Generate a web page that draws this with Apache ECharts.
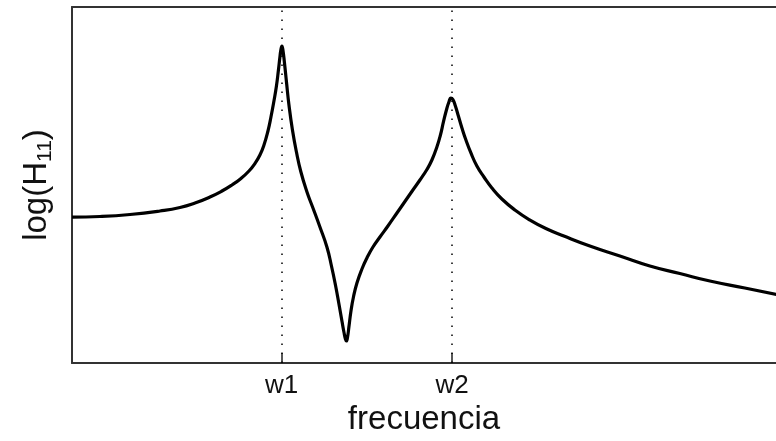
<!DOCTYPE html>
<html>
<head>
<meta charset="utf-8">
<script src="https://cdn.jsdelivr.net/npm/echarts@6/dist/echarts.min.js"></script>
<style>
html,body{margin:0;padding:0;background:#fff;}
#chart{width:776px;height:441px;}
</style>
</head>
<body>
<div id="chart"></div>
<script>
// frequency (arbitrary units) and log(H11) (arbitrary units)
var freq = [0.00, 3.93, 8.15, 12.36, 15.17, 17.28, 19.38, 21.07, 22.47, 23.74, 24.86, 25.70, 26.40, 26.97, 27.53, 27.95, 28.37, 28.72, 29.00, 29.21, 29.35, 29.49, 29.63, 29.85, 30.13, 30.48, 30.97, 31.53, 32.16, 33.01, 33.85, 34.83, 35.81, 36.45, 37.01, 37.50, 37.92, 38.20, 38.41, 38.55, 38.69, 38.90, 39.19, 39.54, 40.03, 40.73, 41.43, 42.28, 43.26, 44.38, 45.65, 46.77, 47.89, 48.88, 49.86, 50.56, 51.26, 51.76, 52.18, 52.60, 52.95, 53.23, 53.51, 53.86, 54.28, 54.78, 55.34, 56.04, 56.88, 57.87, 58.99, 60.39, 62.22, 64.33, 66.57, 69.10, 72.75, 76.97, 81.18, 85.39, 89.61, 94.52, 100.00];
var logH11 = [40.98, 41.15, 41.71, 42.70, 43.68, 44.94, 46.63, 48.31, 50.00, 51.83, 53.93, 56.04, 58.43, 61.24, 65.17, 69.10, 73.60, 77.81, 82.30, 85.96, 88.06, 89.04, 87.92, 84.27, 78.93, 72.47, 65.45, 59.27, 53.65, 48.03, 43.54, 38.20, 32.58, 27.25, 21.91, 16.57, 11.80, 8.71, 6.74, 6.18, 7.02, 10.11, 14.61, 18.54, 22.47, 26.40, 29.49, 32.58, 35.39, 38.48, 42.13, 45.37, 48.60, 51.40, 54.35, 57.02, 60.67, 64.04, 67.70, 71.07, 73.31, 74.44, 74.02, 72.19, 69.38, 66.01, 62.64, 58.99, 55.34, 52.25, 49.16, 46.07, 42.98, 40.17, 37.78, 35.67, 32.87, 30.06, 27.25, 25.14, 23.03, 21.07, 18.82];
var tickLabels = ['w1', 'w2'];
var tickValues = [29.45, 53.41];

var data = freq.map(function (f, i) { return [f, logH11[i]]; });
var chart = echarts.init(document.getElementById('chart'), null, {renderer: 'canvas'});
var font = '"Liberation Sans", Arial, sans-serif';
var frame = {show: true, lineStyle: {color: '#333', width: 2}};
chart.setOption({
  animation: false,
  backgroundColor: '#ffffff',
  grid: {left: 72, top: 7, right: 0, bottom: 78, show: false, outerBoundsMode: 'none', containLabel: false},
  xAxis: [{
    type: 'value', min: 0, max: 98.9,
    name: 'frecuencia', nameLocation: 'middle', nameGap: 40,
    nameTextStyle: {fontFamily: font, fontSize: 33, color: '#111'},
    axisLine: frame,
    splitLine: {show: false},
    axisTick: {show: true, inside: true, length: 10, customValues: tickValues, lineStyle: {color: '#222', width: 1.5}},
    axisLabel: {
      customValues: tickValues, margin: 10, fontFamily: font, fontSize: 26, color: '#111',
      formatter: function (v) { var i = tickValues.indexOf(v); return i >= 0 ? tickLabels[i] : ''; }
    }
  }, {
    type: 'value', min: 0, max: 98.9, position: 'top',
    axisLine: frame, axisTick: {show: false}, axisLabel: {show: false}, splitLine: {show: false}
  }],
  yAxis: {
    type: 'value', min: 0, max: 100,
    name: '{a|log(H}{b|11}{a|)}', nameLocation: 'middle', nameGap: 16, nameRotate: 90,
    nameTextStyle: {
      fontFamily: font, fontSize: 33, color: '#111',
      rich: {
        a: {fontFamily: font, fontSize: 33, color: '#111', verticalAlign: 'top', lineHeight: 36},
        b: {fontFamily: font, fontSize: 21, color: '#111', verticalAlign: 'bottom', lineHeight: 24, padding: [38, 0, 0, 0]}
      }
    },
    axisLine: frame, axisTick: {show: false}, axisLabel: {show: false}, splitLine: {show: false}
  },
  series: [{
    type: 'line', data: data, smooth: 0.5, showSymbol: false,
    lineStyle: {color: '#000', width: 3.2},
    markLine: {
      silent: true, symbol: 'none', label: {show: false},
      lineStyle: {color: '#000', width: 1.5, type: [1.5, 7.5]},
      data: tickValues.map(function (v) { return {xAxis: v}; })
    }
  }]
});
</script>
</body>
</html>
